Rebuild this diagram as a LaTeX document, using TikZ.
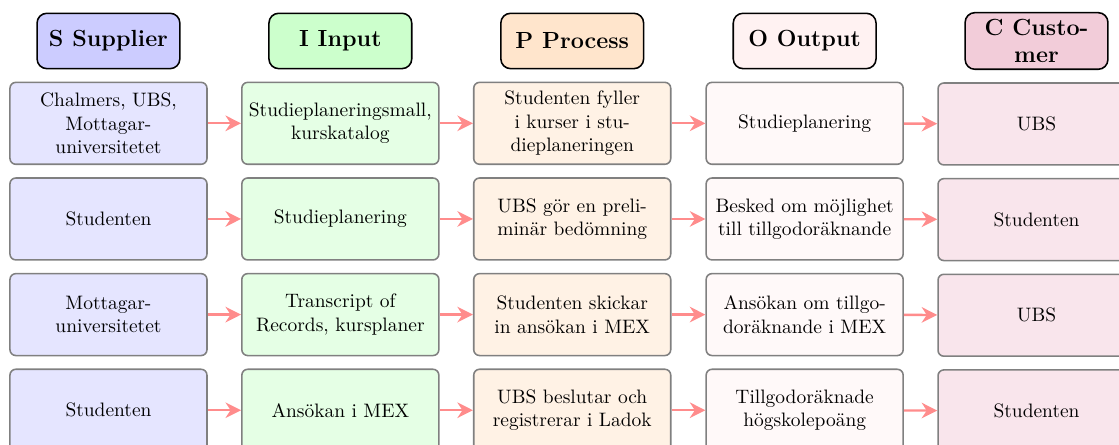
\documentclass[tikz,border=0pt]{standalone}
\usepackage{tikz}
\usetikzlibrary{positioning, arrows.meta}

\begin{document}
\begin{tikzpicture}[
    head/.style={draw, thick, rounded corners=5pt, align=center, minimum width=2.58cm, minimum height=1cm, font=\large\bfseries},
    item/.style={draw=black!50, thick, rounded corners=3pt, align=center, minimum width=3.56cm, minimum height=1.48cm},
    flow/.style={red!45, very thick, -{Stealth[length=8pt, width=8pt]}},
    node distance=0.22cm
  ]
      \useasboundingbox (0,0) rectangle (20.22,-8.04);
      % header row
      \node[head, fill=blue!20] (S) at (1.96, -0.74) {S Supplier};
      \node[head, fill=green!20] (I) at (6.15, -0.74) {I Input};
      \node[head, fill=orange!20] (P) at (10.34, -0.74) {P Process};
      \node[head, fill=pink!20] (O) at (14.54, -0.74) {O Output};
      \node[head, fill=purple!20] (C) at (18.73, -0.74) {C Custo-\\mer};
      % supplier
      \node[item, fill=blue!10, below=of S] (S1) {Chalmers, UBS,\\Mottagar-\\universitetet};
      \node[item, fill=blue!10, below=of S1] (S2) {Studenten};
      \node[item, fill=blue!10, below=of S2] (S3) {Mottagar-\\universitetet};
      \node[item, fill=blue!10, below=of S3] (S4) {Studenten};
      % input
      \node[item, fill=green!10, below=of I] (I1) {Studieplaneringsmall,\\kurskatalog};
      \node[item, fill=green!10, below=of I1] (I2) {Studieplanering};
      \node[item, fill=green!10, below=of I2] (I3) {Transcript of\\Records, kursplaner};
      \node[item, fill=green!10, below=of I3] (I4) {Ansökan i MEX};
      % process
      \node[item, fill=orange!10, below=of P] (P1) {Studenten fyller\\i kurser i stu-\\dieplaneringen};
      \node[item, fill=orange!10, below=of P1] (P2) {UBS gör en preli-\\minär bedömning};
      \node[item, fill=orange!10, below=of P2] (P3) {Studenten skickar\\in ansökan i MEX};
      \node[item, fill=orange!10, below=of P3] (P4) {UBS beslutar och\\registrerar i Ladok};
      % output
      \node[item, fill=pink!10, below=of O] (O1) {Studieplanering};
      \node[item, fill=pink!10, below=of O1] (O2) {Besked om möjlighet\\till tillgodoräknande};
      \node[item, fill=pink!10, below=of O2] (O3) {Ansökan om tillgo-\\doräknande i MEX};
      \node[item, fill=pink!10, below=of O3] (O4) {Tillgodoräknade\\högskolepoäng};
      % customer
      \node[item, fill=purple!10, below=of C] (C1) {UBS};
      \node[item, fill=purple!10, below=of C1] (C2) {Studenten};
      \node[item, fill=purple!10, below=of C2] (C3) {UBS};
      \node[item, fill=purple!10, below=of C3] (C4) {Studenten};
      % arrows
      \draw[flow] (S1) -- (I1);
      \draw[flow] (I1) -- (P1);
      \draw[flow] (P1) -- (O1);
      \draw[flow] (O1) -- (C1);
      \draw[flow] (S2) -- (I2);
      \draw[flow] (I2) -- (P2);
      \draw[flow] (P2) -- (O2);
      \draw[flow] (O2) -- (C2);
      \draw[flow] (S3) -- (I3);
      \draw[flow] (I3) -- (P3);
      \draw[flow] (P3) -- (O3);
      \draw[flow] (O3) -- (C3);
      \draw[flow] (S4) -- (I4);
      \draw[flow] (I4) -- (P4);
      \draw[flow] (P4) -- (O4);
      \draw[flow] (O4) -- (C4);
  \end{tikzpicture}
\end{document}
